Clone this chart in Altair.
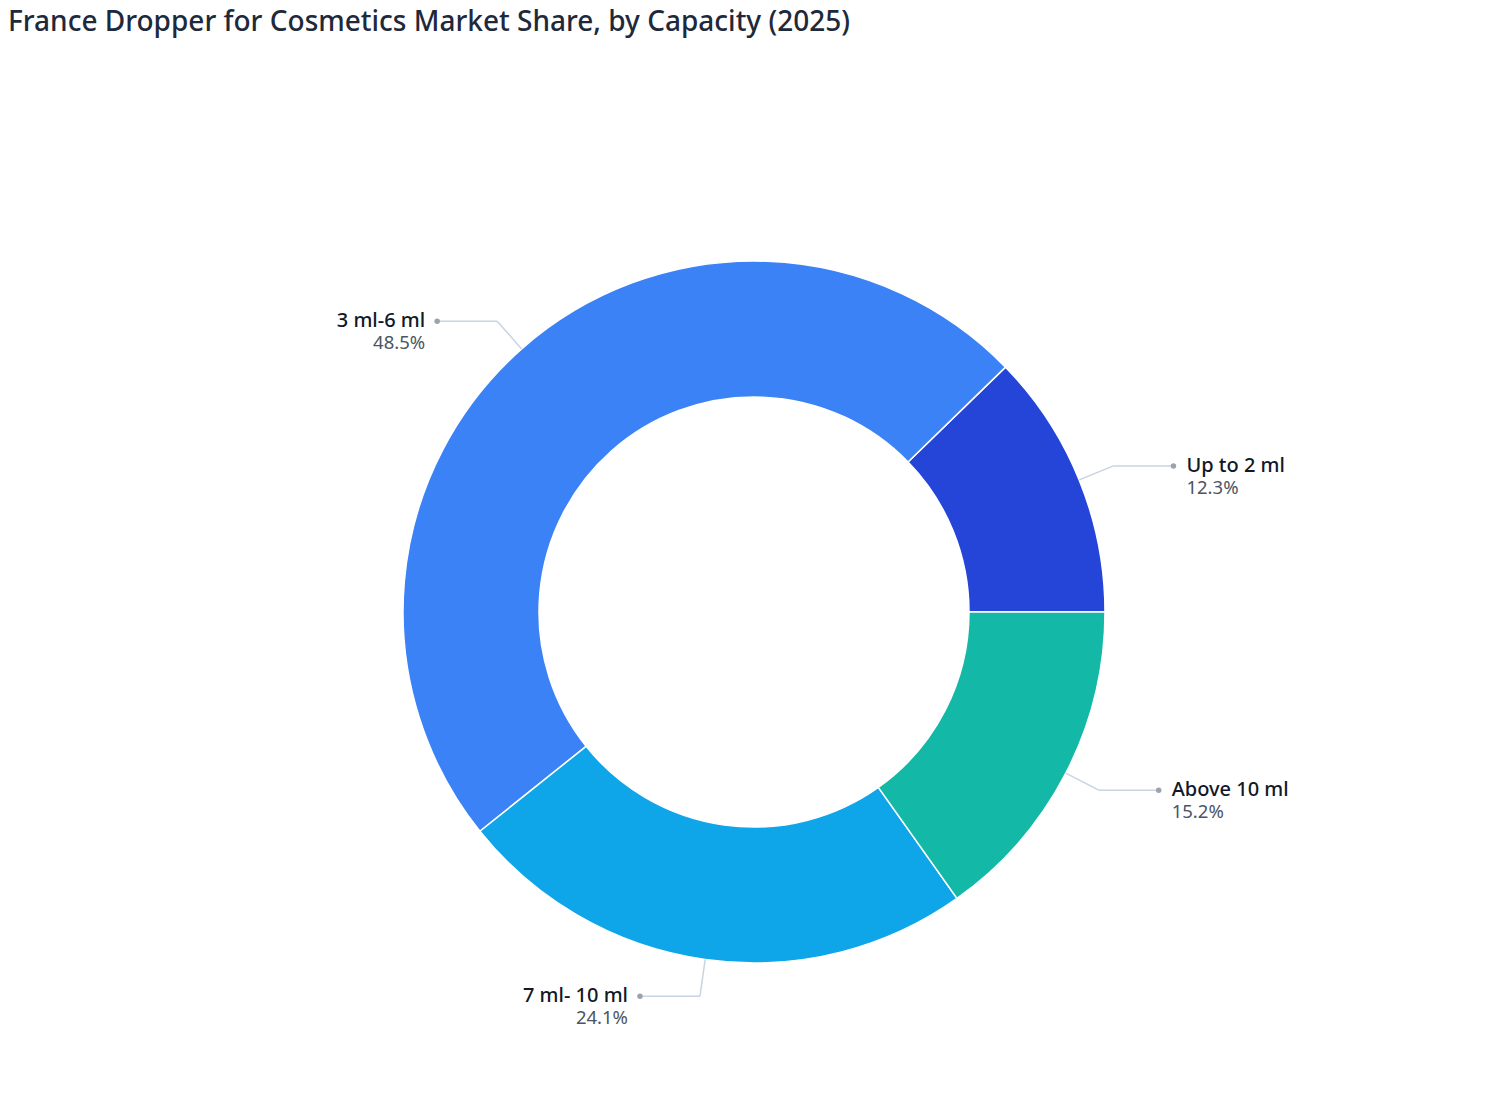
import altair as alt
import pandas as pd
import math

categories = ["Up to 2 ml", "3 ml-6 ml", "7 ml- 10 ml", "Above 10 ml"]
shares = [12.3, 48.5, 24.1, 15.2]
colors = ["#2545d9", "#3b82f6", "#0ea5e9", "#14b8a6"]
# clockwise drawing order starting at 3 o'clock
cw_order = [3, 2, 1, 0]

df = pd.DataFrame({"category": categories, "share": shares, "cw": cw_order})

R_OUT = 351
R_IN = 215
R_ELBOW = 388
HLEN = 60

W, H = 1492, 1064
CY = 564  # pixel offset of centre from top of plot area
x_scale = alt.Scale(domain=[-W / 2, W / 2], nice=False, zero=False)
y_scale = alt.Scale(domain=[CY - H, CY], nice=False, zero=False)

base = alt.Chart(df).transform_joinaggregate(
    total="sum(share)"
).transform_window(
    cum="sum(share)", sort=[alt.SortField("cw")], frame=[None, 0]
).transform_calculate(
    ang="PI/2 + (datum.cum - datum.share/2) / datum.total * 2 * PI"
).transform_calculate(
    x1=f"{R_OUT} * sin(datum.ang)",
    y1=f"{R_OUT} * cos(datum.ang)",
    x2=f"{R_ELBOW} * sin(datum.ang)",
    y2=f"{R_ELBOW} * cos(datum.ang)",
).transform_calculate(
    side="datum.x2 >= 0 ? 1 : -1"
).transform_calculate(
    x3=f"datum.x2 + datum.side * {HLEN}",
    pct="format(datum.share, '.1f') + '%'",
)

X = lambda f: alt.X(f"{f}:Q", scale=x_scale, axis=None)
Y = lambda f: alt.Y(f"{f}:Q", scale=y_scale, axis=None)

arc = alt.Chart(df).mark_arc(
    innerRadius=R_IN, outerRadius=R_OUT, stroke="white", strokeWidth=1.5
).encode(
    theta=alt.Theta("share:Q", stack=True,
                    scale=alt.Scale(range=[math.pi / 2, math.pi / 2 + 2 * math.pi])),
    order=alt.Order("cw:Q", sort="ascending"),
    color=alt.Color("category:N", scale=alt.Scale(domain=categories, range=colors), legend=None),
    x=alt.datum(0, scale=x_scale, axis=None),
    y=alt.datum(0, scale=y_scale, axis=None),
)

line_color = "#c8d3e3"
seg1 = base.mark_rule(color=line_color, strokeWidth=1.5).encode(
    x=X("x1"), y=Y("y1"), x2="x2:Q", y2="y2:Q")
seg2 = base.mark_rule(color=line_color, strokeWidth=1.5).encode(
    x=X("x2"), y=Y("y2"), x2="x3:Q", y2="y2:Q")
dots = base.mark_point(filled=True, size=30, color="#9ca3af", opacity=1).encode(
    x=X("x3"), y=Y("y2"))

right = base.transform_filter("datum.side > 0")
left = base.transform_filter("datum.side < 0")

FONT = "Noto Sans"
NAME_SIZE = 20
PCT_SIZE = 18.5
name_r = right.mark_text(align="left", baseline="middle", dx=13, fontSize=NAME_SIZE, font=FONT,
                         fontWeight=500, color="#111827").encode(x=X("x3"), y=Y("y2"), text="category:N")
pct_r = right.mark_text(align="left", baseline="middle", dx=13, dy=22, fontSize=PCT_SIZE, font=FONT,
                        color="#4b5563").encode(x=X("x3"), y=Y("y2"), text="pct:N")
name_l = left.mark_text(align="right", baseline="middle", dx=-12, fontSize=NAME_SIZE, font=FONT,
                        fontWeight=500, color="#111827").encode(x=X("x3"), y=Y("y2"), text="category:N")
pct_l = left.mark_text(align="right", baseline="middle", dx=-12, dy=22, fontSize=PCT_SIZE, font=FONT,
                       color="#4b5563").encode(x=X("x3"), y=Y("y2"), text="pct:N")

chart = alt.layer(arc, seg1, seg2, dots, name_r, pct_r, name_l, pct_l).properties(
    width=W, height=H,
    autosize=alt.AutoSizeParams(type="none"),
    padding={"top": 40, "left": 0, "right": 0, "bottom": 0},
    title=alt.Title("France Dropper for Cosmetics Market Share, by Capacity (2025)",
                    anchor="start", frame="group", fontSize=28, font=FONT, fontWeight=500,
                    color="#1e293b", offset=11),
).configure_view(stroke=None)

chart.save("out.html", embed_options={"renderer": "svg", "actions": False})
